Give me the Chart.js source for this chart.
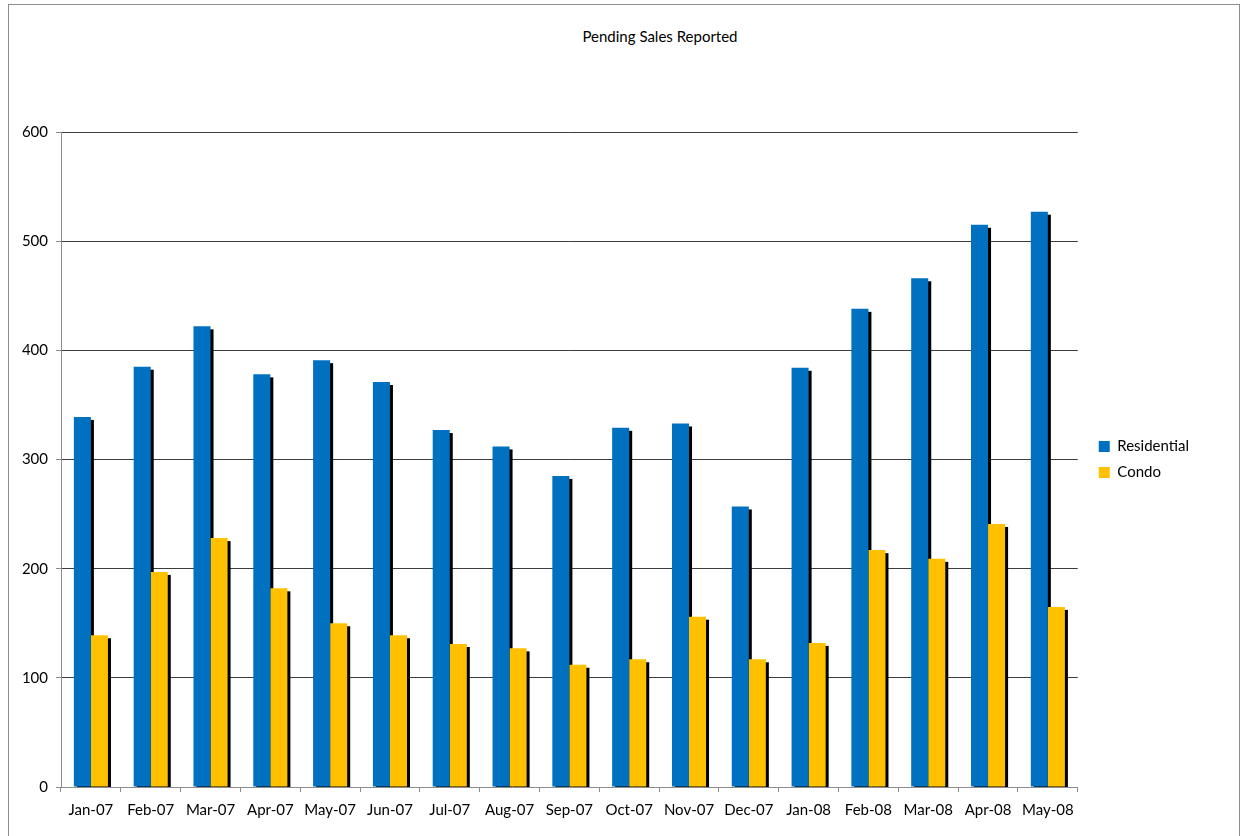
<!DOCTYPE html>
<html>
<head>
<meta charset="utf-8">
<script src="https://cdn.jsdelivr.net/npm/chart.js@4"></script>
<style>
  body { margin: 0; background: #fff; overflow: hidden; }
  #frame { position: absolute; left: 8px; top: 4px; width: 1230px; height: 900px; border: 1px solid #8c8c8c; }
  #title { position: absolute; left: 551px; top: 22px; width: 200px; text-align: center;
           font: 15px Lato, "Open Sans", sans-serif; color: #000; }
  canvas { position: absolute; left: 0; top: 0; }
</style>
</head>
<body>
<div id="frame">
  <div id="title">Pending Sales Reported</div>
  <canvas id="chart" width="1230" height="831"></canvas>
</div>
<script>
const ctx = document.getElementById("chart");

const months = ["Jan-07", "Feb-07", "Mar-07", "Apr-07", "May-07", "Jun-07", "Jul-07", "Aug-07", "Sep-07",
  "Oct-07", "Nov-07", "Dec-07", "Jan-08", "Feb-08", "Mar-08", "Apr-08", "May-08"];
const residential = [339, 385, 422, 378, 391, 371, 327, 312, 285, 329, 333, 257, 384, 438, 466, 515, 527];
const condo = [139, 197, 228, 182, 150, 139, 131, 127, 112, 117, 156, 117, 132, 217, 209, 241, 165];

const font = { family: "Lato, 'Open Sans', sans-serif", size: 15 };

// black drop shadow to the lower right of every bar
const barShadow = {
  id: "barShadow",
  beforeDatasetsDraw(chart) {
    const c = chart.ctx;
    const area = chart.chartArea;
    c.save();
    c.beginPath();
    c.rect(area.left, area.top, area.right - area.left, area.bottom - area.top);
    c.clip();
    c.fillStyle = "#000";
    chart.data.datasets.forEach((ds, i) => {
      chart.getDatasetMeta(i).data.forEach((bar) => {
        const p = bar.getProps(["x", "y", "base", "width"], true);
        c.fillRect(p.x - p.width / 2 + 3, p.y + 3, p.width, p.base - p.y);
      });
    });
    c.restore();
  },
};

new Chart(ctx, {
  type: "bar",
  data: {
    labels: months,
    datasets: [
      { label: "Residential", data: residential, backgroundColor: "#0070C0" },
      { label: "Condo", data: condo, backgroundColor: "#FFC000" },
    ],
  },
  options: {
    responsive: false,
    animation: false,
    layout: { padding: { top: 127, left: 0, right: 40, bottom: 0 } },
    datasets: { bar: { categoryPercentage: 0.57, barPercentage: 1.0 } },
    plugins: {
      title: { display: false },
      tooltip: { enabled: false },
      legend: {
        position: "right",
        fullSize: false,
        labels: { font: font, color: "#000", boxWidth: 11, boxHeight: 11, padding: 11 },
      },
    },
    scales: {
      x: {
        grid: { offset: true, drawOnChartArea: false, color: "#8c8c8c", tickLength: 5 },
        border: { color: "#8c8c8c" },
        ticks: { font: font, color: "#000", padding: 9, maxRotation: 0 },
        afterFit: (s) => { s.height = 49; },
      },
      y: {
        min: 0,
        max: 600,
        ticks: { stepSize: 100, font: font, color: "#000", padding: 8 },
        grid: {
          color: (c) => (c.tick && c.tick.value === 0 ? "rgba(0,0,0,0)" : "#3c3c3c"),
          tickColor: "#8c8c8c",
          tickLength: 5,
        },
        border: { color: "#8c8c8c" },
        afterFit: (s) => { s.width = 52; },
      },
      spacer: {
        position: "right",
        display: true,
        grid: { display: false },
        border: { display: false },
        ticks: { display: false },
        afterFit: (s) => { s.width = 10; },
      },
    },
  },
  plugins: [barShadow],
});
</script>
</body>
</html>
